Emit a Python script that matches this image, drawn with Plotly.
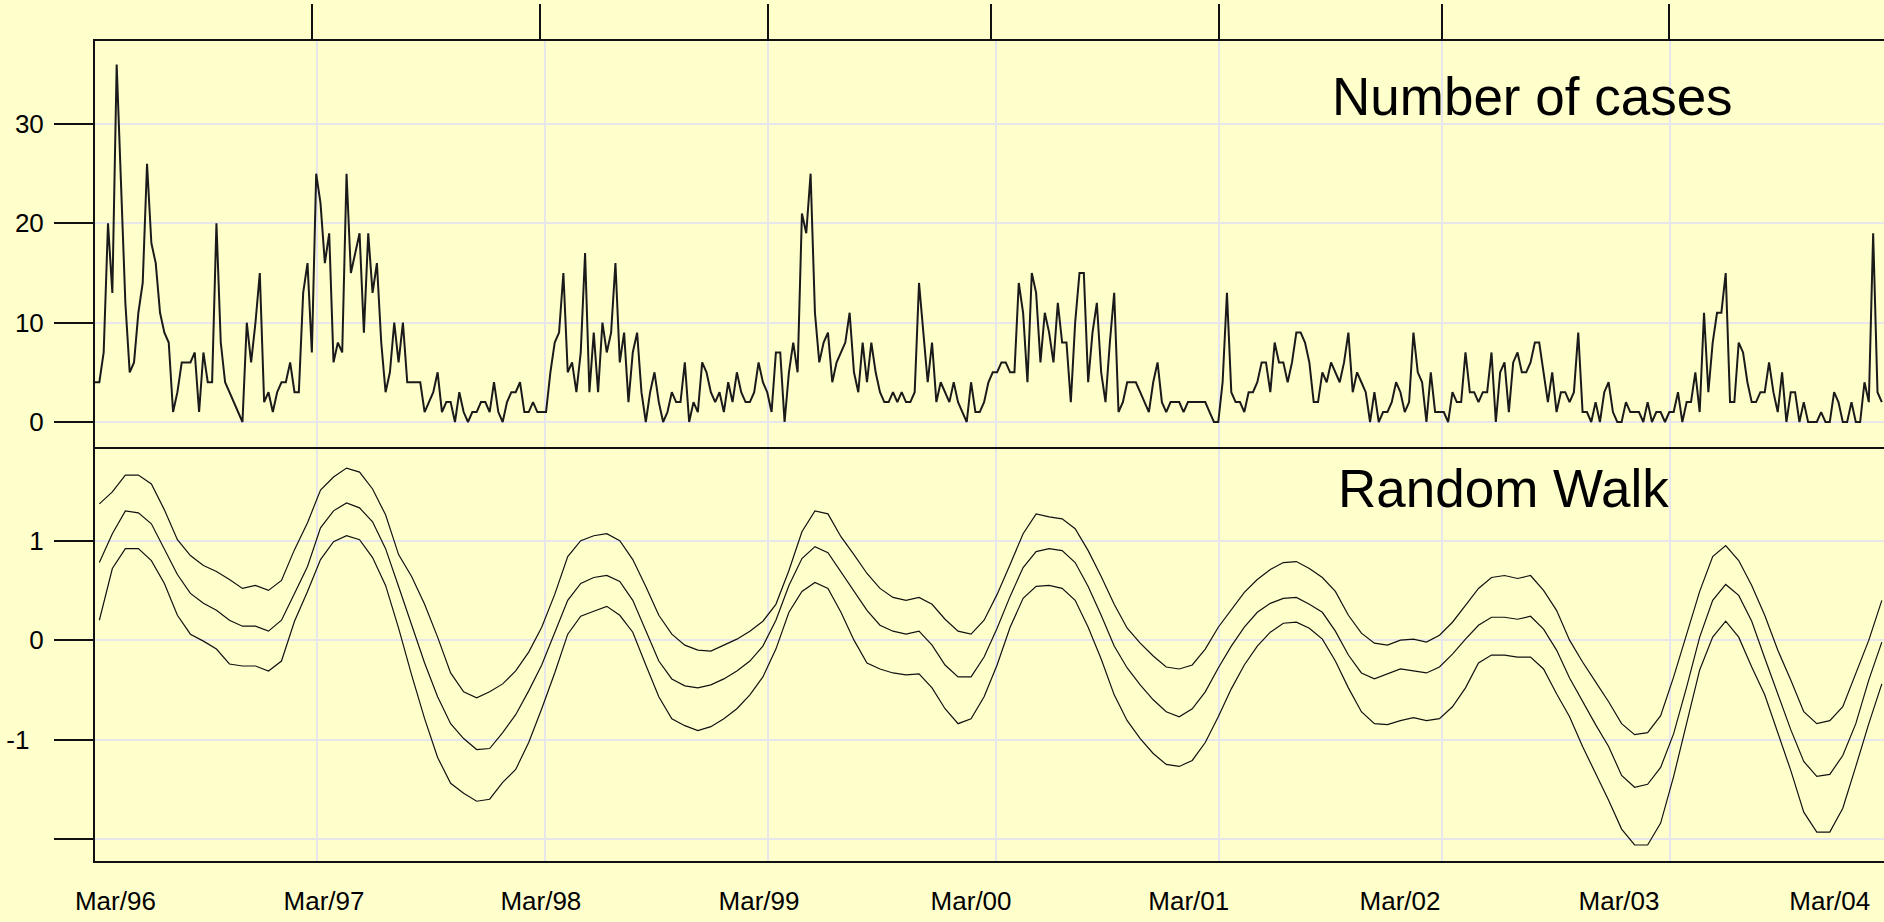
import plotly.graph_objects as go

# ---------------- data ----------------
# weekly number of cases (week 1 = first point at the left border)
case_counts = [
    4, 4, 7, 20, 13, 36, 24, 12, 5, 6,
    11, 14, 26, 18, 16, 11, 9, 8, 1, 3,
    6, 6, 6, 7, 1, 7, 4, 4, 20, 8,
    4, 3, 2, 1, 0, 10, 6, 10, 15, 2,
    3, 1, 3, 4, 4, 6, 3, 3, 13, 16,
    7, 25, 22, 16, 19, 6, 8, 7, 25, 15,
    17, 19, 9, 19, 13, 16, 8, 3, 5, 10,
    6,
    10, 4, 4, 4, 4, 1, 2, 3, 5, 1,
    2, 2, 0, 3, 1, 0, 1, 1, 2, 2,
    1, 4, 1, 0, 2, 3, 3, 4, 1, 1,
    2, 1, 1, 1,
    5, 8, 9, 15, 5, 6, 3, 7, 17, 3,
    9, 3, 10, 7, 9, 16, 6, 9, 2, 7,
    9, 3, 0, 3, 5,
    2, 0, 1, 3, 2, 2, 6, 0, 2, 1, 6, 5,
    3, 2, 3, 1, 4, 2, 5, 3, 2, 2, 3, 6, 4, 3, 1, 7, 7, 0, 5, 8, 5, 21, 19, 25,
    11, 6, 8, 9, 4, 6, 7, 8, 11, 5,
    3, 8, 4, 8, 5, 3, 2, 2, 3, 2,
    3, 2, 2, 3, 14, 9, 4, 8, 2, 4,
    3, 2, 4, 2, 1, 0, 4, 1, 1, 2,
    4, 5, 5, 6, 6, 5, 5,
    14, 11, 4, 15, 13, 6, 11, 9, 6, 12, 8, 8, 2, 10, 15, 15, 4,
    9, 12, 5, 2, 8, 13,
    1, 2, 4, 4, 4, 3, 2, 1, 4, 6, 2, 1, 2, 2,
    2, 1, 2, 2, 2, 2, 2, 1, 0, 0, 4, 13,
    3, 2, 2, 1, 3, 3, 4, 6, 6, 3, 8,
    6, 6, 4, 6, 9, 9, 8, 6, 2, 2, 5, 4, 6, 5, 4, 6, 9, 3, 5, 4,
    3, 0, 3, 0, 1, 1, 2, 4, 3, 1, 2, 9, 5, 4, 0, 5, 1, 1, 1, 0,
    3, 2, 2, 7, 3, 3, 2, 3, 3, 7, 0, 5,
    6, 1, 6, 7, 5, 5, 6, 8, 8, 5, 2, 5, 1, 3, 3, 2, 3, 9,
    1, 1, 0, 2, 0, 3, 4, 1, 0, 0, 2, 1, 1, 1, 0, 2, 0, 1, 1, 0,
    1, 1, 3, 0, 2, 2, 5, 1,
    11, 3, 8, 11, 11, 15,
    2, 2, 8, 7, 4, 2, 2, 3, 3, 6, 3, 1, 5, 0,
    3, 3, 0, 2, 0, 0, 0, 1, 0, 0, 3, 2, 0, 0, 2, 0, 0, 4, 2, 19, 3, 2,
]
case_weeks = list(range(1, len(case_counts) + 1))

# random walk (posterior mean and band), evaluated every third week
rw_upper = [
    1.37, 1.49, 1.66, 1.66, 1.57, 1.31, 1.01, 0.85, 0.75, 0.69, 0.61, 0.52,
    0.55, 0.50, 0.60, 0.91, 1.18, 1.51, 1.64, 1.73, 1.69, 1.52, 1.26, 0.86,
    0.64, 0.36, 0.03, -0.33, -0.52, -0.58, -0.52, -0.44, -0.31, -0.12, 0.13, 0.46,
    0.84, 1.00, 1.05, 1.07, 1.00, 0.81, 0.54, 0.25, 0.06, -0.05, -0.10, -0.11,
    -0.05, 0.01, 0.09, 0.19, 0.36, 0.70, 1.09, 1.30, 1.27, 1.04, 0.86, 0.67,
    0.52, 0.43, 0.40, 0.43, 0.36, 0.21, 0.09, 0.06, 0.20, 0.46, 0.76, 1.07,
    1.27, 1.24, 1.22, 1.12, 0.90, 0.64, 0.36, 0.12, -0.03, -0.16, -0.27, -0.29,
    -0.25, -0.09, 0.13, 0.31, 0.48, 0.61, 0.71, 0.78, 0.79, 0.72, 0.63, 0.49,
    0.25, 0.07, -0.03, -0.05, 0.00, 0.01, -0.02, 0.05, 0.18, 0.35, 0.52, 0.63,
    0.65, 0.62, 0.65, 0.50, 0.30, 0.00, -0.22, -0.42, -0.62, -0.84, -0.95, -0.93,
    -0.76, -0.37, 0.07, 0.49, 0.84, 0.95, 0.80, 0.55, 0.25, -0.10, -0.40, -0.72,
    -0.84, -0.81, -0.67, -0.33, 0.00, 0.40,
]
rw_mean = [
    0.78, 1.07, 1.30, 1.28, 1.17, 0.91, 0.66, 0.47, 0.37, 0.30, 0.20, 0.14,
    0.14, 0.09, 0.20, 0.47, 0.74, 1.13, 1.30, 1.38, 1.33, 1.19, 0.92, 0.54,
    0.15, -0.23, -0.57, -0.84, -0.99, -1.10, -1.09, -0.93, -0.75, -0.51, -0.25, 0.07,
    0.40, 0.57, 0.63, 0.65, 0.59, 0.40, 0.09, -0.21, -0.39, -0.46, -0.48, -0.45,
    -0.39, -0.31, -0.21, -0.06, 0.20, 0.55, 0.82, 0.94, 0.88, 0.69, 0.49, 0.30,
    0.15, 0.09, 0.06, 0.09, -0.05, -0.25, -0.37, -0.37, -0.17, 0.12, 0.44, 0.73,
    0.89, 0.92, 0.90, 0.78, 0.54, 0.25, -0.06, -0.28, -0.45, -0.60, -0.72, -0.77,
    -0.69, -0.52, -0.28, -0.06, 0.13, 0.28, 0.37, 0.42, 0.43, 0.36, 0.28, 0.09,
    -0.15, -0.33, -0.39, -0.34, -0.29, -0.31, -0.33, -0.27, -0.14, 0.01, 0.15, 0.23,
    0.23, 0.21, 0.24, 0.11, -0.10, -0.38, -0.62, -0.85, -1.07, -1.36, -1.48, -1.45,
    -1.28, -0.94, -0.47, 0.03, 0.40, 0.56, 0.45, 0.19, -0.18, -0.54, -0.90, -1.22,
    -1.37, -1.35, -1.16, -0.84, -0.40, -0.02,
]
rw_lower = [
    0.20, 0.72, 0.92, 0.92, 0.80, 0.57, 0.25, 0.06, -0.01, -0.09, -0.24, -0.26,
    -0.26, -0.31, -0.21, 0.19, 0.49, 0.81, 0.99, 1.05, 1.01, 0.83, 0.55, 0.12,
    -0.35, -0.79, -1.18, -1.44, -1.54, -1.62, -1.60, -1.43, -1.30, -1.03, -0.69, -0.33,
    0.06, 0.24, 0.29, 0.34, 0.25, 0.08, -0.25, -0.57, -0.79, -0.86, -0.91, -0.87,
    -0.79, -0.69, -0.55, -0.37, -0.09, 0.28, 0.49, 0.58, 0.52, 0.28, 0.00, -0.23,
    -0.29, -0.33, -0.35, -0.34, -0.48, -0.69, -0.84, -0.79, -0.57, -0.25, 0.13, 0.42,
    0.54, 0.55, 0.52, 0.40, 0.13, -0.19, -0.55, -0.81, -0.99, -1.14, -1.25, -1.27,
    -1.21, -1.03, -0.77, -0.49, -0.25, -0.06, 0.08, 0.17, 0.18, 0.12, 0.01, -0.21,
    -0.48, -0.72, -0.84, -0.85, -0.81, -0.78, -0.81, -0.79, -0.67, -0.48, -0.23, -0.15,
    -0.15, -0.17, -0.17, -0.29, -0.54, -0.77, -1.07, -1.34, -1.61, -1.90, -2.06, -2.06,
    -1.84, -1.37, -0.84, -0.30, 0.03, 0.19, 0.03, -0.27, -0.55, -0.92, -1.31, -1.73,
    -1.93, -1.93, -1.69, -1.27, -0.84, -0.44,
]
rw_weeks = list(range(2, 2 + 3 * len(rw_mean), 3))

# axis furniture (positions in weeks)
grid_weeks = [52.2, 104.8, 156.2, 208.7, 260.2, 311.6, 364.2]
top_tick_weeks = [51.0, 103.6, 156.2, 207.6, 260.2, 311.6, 364.0]
label_weeks = [5.7, 53.8, 103.8, 154.1, 203.0, 253.2, 301.9, 352.4, 401.0]
label_text = ["Mar/96", "Mar/97", "Mar/98", "Mar/99", "Mar/00",
              "Mar/01", "Mar/02", "Mar/03", "Mar/04"]
cases_ticks = [0, 10, 20, 30]
rw_ticks = [1, 0, -1, -2]
rw_ticktext = ["1", "0", "-1\u00a0\u00a0", ""]
panel_titles = ["Number of cases", "Random Walk"]

# ---------------- styling ----------------
BG = "#FFFFCC"
GRID = "#E6E6EC"
INK = "#111111"
FONT = "Liberation Sans, Arial, Helvetica, sans-serif"
X_RANGE = [1, 413.5]
SPLIT = 412 / 820  # bottom of top panel in paper units

fig = go.Figure()
fig.add_trace(go.Scatter(x=case_weeks, y=case_counts, mode="lines",
                         line=dict(color="#1a1a1a", width=2.0),
                         xaxis="x", yaxis="y", hoverinfo="skip"))
for series in (rw_upper, rw_mean, rw_lower):
    fig.add_trace(go.Scatter(x=rw_weeks, y=series, mode="lines",
                             line=dict(color="#111111", width=1.2),
                             xaxis="x2", yaxis="y2", hoverinfo="skip"))
# empty traces so the overlay axes (top ticks / bottom labels) are drawn
fig.add_trace(go.Scatter(x=[], y=[], xaxis="x3", yaxis="y", hoverinfo="skip"))
fig.add_trace(go.Scatter(x=[], y=[], xaxis="x4", yaxis="y2", hoverinfo="skip"))

common_x = dict(range=X_RANGE, zeroline=False, showticklabels=False, ticks="",
                showline=False, fixedrange=True)

fig.update_layout(
    width=1884, height=922,
    margin=dict(l=95, r=0, t=41, b=61),
    paper_bgcolor=BG, plot_bgcolor=BG,
    showlegend=False,
    font=dict(family=FONT, size=26, color="black"),
    xaxis=dict(**common_x, domain=[0, 1], anchor="y",
               tickmode="array", tickvals=grid_weeks,
               showgrid=True, gridcolor=GRID, gridwidth=1.5),
    xaxis3=dict(range=X_RANGE, overlaying="x", anchor="y", side="top",
                tickmode="array", tickvals=top_tick_weeks,
                ticks="outside", ticklen=35, tickwidth=2, tickcolor=INK,
                showticklabels=False, showgrid=False, zeroline=False,
                showline=True, linecolor=INK, linewidth=2, fixedrange=True),
    yaxis=dict(domain=[SPLIT, 1], anchor="x", range=[-2.72, 38.36],
               tickmode="array", tickvals=cases_ticks,
               ticks="outside", ticklen=39, tickwidth=2, tickcolor=INK,
               ticklabelstandoff=5,
               showgrid=True, gridcolor=GRID, gridwidth=1.5, zeroline=False,
               showline=True, linecolor=INK, linewidth=2, fixedrange=True),
    xaxis2=dict(**common_x, domain=[0, 1], anchor="y2",
                tickmode="array", tickvals=grid_weeks,
                showgrid=True, gridcolor=GRID, gridwidth=1.5),
    xaxis4=dict(range=X_RANGE, overlaying="x2", anchor="y2", side="bottom",
                tickmode="array", tickvals=label_weeks, ticktext=label_text,
                ticks="", showticklabels=True, ticklabelstandoff=16,
                showgrid=False, zeroline=False, showline=True, mirror=True,
                linecolor=INK, linewidth=2, fixedrange=True),
    yaxis2=dict(domain=[0, SPLIT], anchor="x2", range=[-2.221, 1.922],
                tickmode="array", tickvals=rw_ticks, ticktext=rw_ticktext,
                ticks="outside", ticklen=39, tickwidth=2, tickcolor=INK,
                ticklabelstandoff=5,
                showgrid=True, gridcolor=GRID, gridwidth=1.5, zeroline=False,
                showline=True, linecolor=INK, linewidth=2, fixedrange=True),
)

fig.add_annotation(text=panel_titles[0], xref="paper", yref="paper",
                   x=(1330 - 95) / 1789, y=1 - (96 - 41) / 820,
                   xanchor="left", yanchor="middle", showarrow=False,
                   font=dict(family=FONT, size=53, color="black"))
fig.add_annotation(text=panel_titles[1], xref="paper", yref="paper",
                   x=(1336 - 95) / 1789, y=1 - (488 - 41) / 820,
                   xanchor="left", yanchor="middle", showarrow=False,
                   font=dict(family=FONT, size=53, color="black"))

# remove the default page margin so the figure fills the window exactly
fig.write_html(
    "out.html",
    config={"displayModeBar": False},
    post_script="document.body.style.margin='0';"
                "document.body.style.background='" + BG + "';",
)
